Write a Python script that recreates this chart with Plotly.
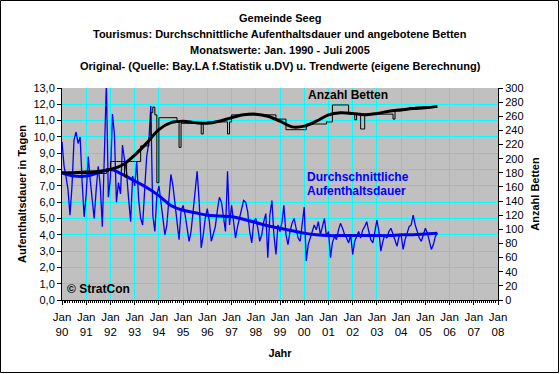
import plotly.graph_objects as go
import pandas as pd

# ---------------- data ----------------
start_month = "1990-01-01"
n_months = 187  # Jan 1990 .. Jul 2005

aufenthalt_raw = [
    9.7, 8.2, 7.6, 6.8, 5.2, 7.0, 9.8, 10.3, 9.6, 10.0, 7.2, 5.1,   # 1990
    6.5, 8.8, 7.4, 6.2, 5.0, 6.8, 8.2, 7.0, 4.5, 8.8, 13.3, 6.3,    # 1991
    7.5, 11.4, 10.2, 6.0, 7.2, 6.5, 9.5, 8.6, 7.8, 6.2, 4.8, 7.6,   # 1992
    7.0, 8.5, 6.2, 5.0, 4.6, 6.8, 8.8, 9.6, 11.9, 5.2, 4.2, 6.4,    # 1993
    7.0, 6.0, 5.2, 4.0, 4.6, 6.2, 7.7, 7.0, 6.0, 5.0, 3.7, 5.5,     # 1994
    5.8, 5.2, 4.5, 3.6, 4.2, 5.6, 6.8, 7.9, 6.0, 3.2, 4.0, 5.0,     # 1995
    5.6, 4.8, 3.6, 4.0, 4.5, 5.5, 6.3, 6.0, 5.2, 4.2, 7.9, 4.6,     # 1996
    5.8, 4.8, 3.8, 4.5, 5.0, 5.6, 6.1, 6.0, 5.4, 4.2, 3.5, 4.8,     # 1997
    5.0, 4.4, 3.6, 4.0, 4.8, 5.3, 2.6, 5.2, 6.1, 4.0, 2.8, 4.6,     # 1998
    4.2, 4.8, 5.8, 4.0, 3.4, 4.2, 4.7, 5.0, 4.4, 3.8, 3.6, 4.5,     # 1999
    5.7, 2.4, 3.4, 3.8, 4.2, 4.6, 4.3, 4.8, 4.0, 4.5, 5.0, 3.9,     # 2000
    4.2, 2.6, 3.5, 3.9, 3.7, 4.3, 4.7, 4.4, 4.0, 3.8, 3.5, 4.0,     # 2001
    2.8, 3.6, 3.9, 4.2, 3.8, 4.3, 4.5, 4.8, 4.2, 3.7, 3.5, 4.1,     # 2002
    4.9, 4.2, 3.0, 3.6, 4.0, 3.8, 4.2, 4.4, 4.0, 3.6, 3.3, 3.9,     # 2003
    4.0, 3.1, 3.7, 4.1, 4.5, 4.6, 5.2, 4.6, 4.2, 3.8, 3.6, 4.0,     # 2004
    4.4, 4.1, 3.6, 3.1, 3.4, 3.9, 4.1,                              # 2005
]

betten_raw = [
    179, 179, 179, 179, 179, 179, 179, 179, 179, 179, 179, 179,     # 1990
    179, 179, 179, 179, 179, 179, 179, 179, 179, 179, 182, 184,     # 1991
    196, 196, 196, 196, 196, 196, 196, 174, 196, 196, 196, 196,     # 1992
    196, 196, 196, 218, 218, 218, 218, 230, 265, 273, 262, 166,     # 1993
    258, 258, 258, 258, 258, 258, 258, 258, 258, 252, 216, 250,     # 1994
    250, 250, 250, 250, 250, 250, 250, 250, 250, 235, 250, 250,     # 1995
    252, 252, 252, 252, 252, 252, 252, 252, 252, 252, 235, 252,     # 1996
    262, 262, 262, 262, 262, 262, 262, 262, 262, 262, 262, 262,     # 1997
    262, 262, 262, 262, 262, 262, 262, 262, 262, 262, 256, 256,     # 1998
    256, 256, 256, 241, 241, 241, 241, 241, 241, 241, 241, 241,     # 1999
    241, 249, 249, 249, 249, 249, 249, 249, 249, 249, 249, 252,     # 2000
    252, 252, 276, 276, 276, 276, 276, 276, 276, 276, 263, 263,     # 2001
    263, 255, 263, 263, 242, 242, 263, 263, 263, 263, 263, 263,     # 2002
    263, 263, 263, 263, 263, 263, 263, 263, 256, 268, 270, 270,     # 2003
    270, 270, 271, 271, 272, 272, 272, 273, 273, 273, 273, 273,     # 2004
    273, 273, 273, 273, 273, 273, 273,                              # 2005
]

trend_dates = [
    "1990-01-01", "1990-07-01", "1991-01-01", "1991-07-01", "1992-01-01", "1992-07-01",
    "1993-01-01", "1993-07-01", "1994-01-01", "1994-07-01", "1995-01-01", "1995-07-01",
    "1996-01-01", "1996-07-01", "1997-01-01", "1997-07-01", "1998-01-01", "1998-07-01",
    "1999-01-01", "1999-07-01", "2000-01-01", "2000-07-01", "2001-01-01", "2001-07-01",
    "2002-01-01", "2002-07-01", "2003-01-01", "2003-07-01", "2004-01-01", "2004-07-01",
    "2005-01-01", "2005-07-01",
]
betten_trend = [
    180, 180, 181, 182, 185, 191, 205, 222, 241, 251, 253, 251,
    250, 253, 258, 262, 263, 260, 253, 245, 246, 253, 262, 265,
    264, 262, 264, 267, 269, 271, 272, 274,
]
aufenthalt_trend = [
    7.8, 7.6, 7.6, 7.8, 8.0, 7.7, 7.3, 6.9, 6.4, 5.8, 5.5, 5.35,
    5.2, 5.15, 5.1, 4.95, 4.75, 4.55, 4.4, 4.25, 4.1, 4.0, 3.95, 3.95,
    3.95, 3.95, 3.95, 3.95, 4.0, 4.0, 4.05, 4.1,
]

title_lines = [
    "Gemeinde Seeg",
    "Tourismus: Durchschnittliche Aufenthaltsdauer und angebotene Betten",
    "Monatswerte: Jan. 1990 - Juli 2005",
    "Original- (Quelle: Bay.LA f.Statistik u.DV) u. Trendwerte (eigene Berechnung)",
]

months = pd.date_range(start_month, periods=n_months, freq="MS")

# ---------------- figure ----------------
FONT = "Liberation Sans, Arial, sans-serif"
CYAN = "#00FFFF"
BLUE = "#0000FF"

fig = go.Figure()
fig.add_trace(go.Scatter(x=months, y=betten_raw, yaxis="y2", mode="lines",
                         line=dict(color="black", width=1, shape="hv"), showlegend=False))
fig.add_trace(go.Scatter(x=months, y=aufenthalt_raw, mode="lines",
                         line=dict(color=BLUE, width=1.3), showlegend=False))
fig.add_trace(go.Scatter(x=pd.to_datetime(trend_dates), y=betten_trend, yaxis="y2", mode="lines",
                         line=dict(color="black", width=3, shape="spline"), showlegend=False))
fig.add_trace(go.Scatter(x=pd.to_datetime(trend_dates), y=aufenthalt_trend, mode="lines",
                         line=dict(color=BLUE, width=3, shape="spline"), showlegend=False))

W, H = 560, 374
L, R, T, B = 62, 62, 88, 74
pw, ph = W - L - R, H - T - B

fig.update_layout(
    width=W, height=H,
    margin=dict(l=L, r=R, t=T, b=B, pad=0),
    paper_bgcolor="white",
    plot_bgcolor="#C0C0C0",
    separators=",.",
    font=dict(family=FONT, size=11, color="black"),
    xaxis=dict(
        type="date",
        range=["1990-01-01", "2008-01-01"],
        tick0="1990-01-01", dtick="M12", tickformat="%b<br>%y",
        showgrid=True, gridcolor=CYAN, gridwidth=1,
        showline=True, linecolor="black", linewidth=1,
        ticks="outside", ticklen=4, tickcolor="black",
        ticklabelstandoff=2,
        minor=dict(dtick="M1", ticks="outside", ticklen=2, tickcolor="black", showgrid=False),
        zeroline=False,
        title=dict(text="<b>Jahr</b>", standoff=12, font=dict(size=11)),
        tickfont=dict(size=11.5),
    ),
    yaxis=dict(
        range=[0, 13], dtick=1, tickformat=".1f",
        showgrid=True, gridcolor=CYAN, gridwidth=1,
        showline=True, linecolor="black", linewidth=1,
        ticks="outside", ticklen=4, tickcolor="black",
        zeroline=False,
        title=dict(text="<b>Aufenthaltsdauer in Tagen</b>", standoff=4, font=dict(size=11)),
        tickfont=dict(size=11),
    ),
    yaxis2=dict(
        range=[0, 300], dtick=20, overlaying="y", side="right",
        showgrid=False,
        showline=True, linecolor="black", linewidth=1,
        ticks="outside", ticklen=4, tickcolor="black",
        zeroline=False,
        title=dict(text="<b>Anzahl Betten</b>", standoff=8, font=dict(size=11)),
        tickfont=dict(size=11),
    ),
)

# Titles
for i, line in enumerate(title_lines):
    fig.add_annotation(text=f"<b>{line}</b>", xref="paper", yref="paper",
                       x=0.5, y=1 + (T - 18 - 16 * i) / ph, xanchor="center", yanchor="middle",
                       showarrow=False, font=dict(size=11, color="black"))

# In-plot labels
fig.add_annotation(text="<b>Anzahl Betten</b>", xref="paper", yref="paper",
                   x=(306 - L) / pw, y=(H - B - 95) / ph, xanchor="left", yanchor="middle",
                   showarrow=False, font=dict(size=12, color="black"))
fig.add_annotation(text="<b>Durchschnittliche</b>", xref="paper", yref="paper",
                   x=(305 - L) / pw, y=(H - B - 177) / ph, xanchor="left", yanchor="middle",
                   showarrow=False, font=dict(size=12, color=BLUE))
fig.add_annotation(text="<b>Aufenthaltsdauer</b>", xref="paper", yref="paper",
                   x=(305 - L) / pw, y=(H - B - 191) / ph, xanchor="left", yanchor="middle",
                   showarrow=False, font=dict(size=12, color=BLUE))
fig.add_annotation(text="<b>© StratCon</b>", xref="paper", yref="paper",
                   x=(65 - L) / pw, y=(H - B - 289) / ph, xanchor="left", yanchor="middle",
                   showarrow=False, font=dict(size=12, color="black"))

# Outer frame
fig.add_shape(type="rect", xref="paper", yref="paper",
              x0=-(L - 0.5) / pw, x1=1 + (R - 1.5) / pw,
              y0=-(B - 1.5) / ph, y1=1 + (T - 0.5) / ph,
              line=dict(color="black", width=1), layer="above")

fig.write_html("out.html", config={"displayModeBar": False},
               post_script="document.body.style.margin='0';")
